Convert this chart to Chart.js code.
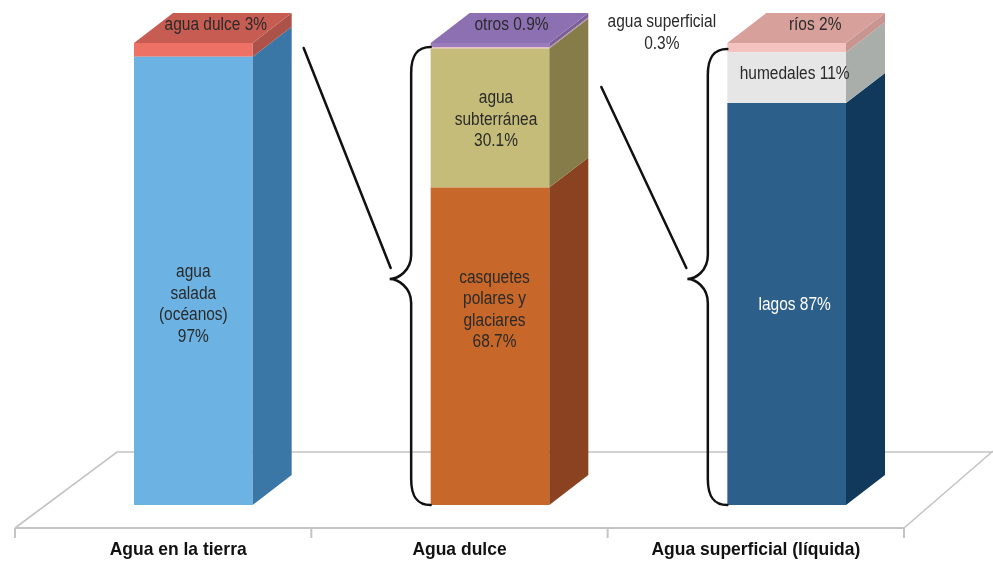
<!DOCTYPE html>
<html>
<head>
<meta charset="utf-8">
<title>Distribución del agua en la tierra</title>
<script src="https://cdn.jsdelivr.net/npm/chart.js"></script>
<style>
    html, body { margin: 0; padding: 0; background: #fff; }
    #wrap { width: 993px; height: 562px; }
</style>
</head>
<body>
<div id="wrap"><canvas id="chart" width="993" height="562"></canvas></div>
<script>
    const categories = ['Agua en la tierra', 'Agua dulce', 'Agua superficial (líquida)'];

    // segmentos apilados de abajo hacia arriba (null = sin segmento)
    const level1 = [97, 68.7, 87];
    const level2 = [3, 30.1, 11];
    const level3 = [null, 0.3, 2];
    const level4 = [null, 0.9, null];

    const labels1 = [['agua', 'salada', '(océanos)', '97%'], ['casquetes', 'polares y', 'glaciares', '68.7%'], ['lagos 87%']];
    const labels2 = [['agua dulce 3%'], ['agua', 'subterránea', '30.1%'], ['humedales 11%']];
    const labels3 = [null, ['agua superficial', '0.3%'], ['ríos 2%']];
    const labels4 = [null, ['otros 0.9%'], null];

    // colores: cara frontal / cara lateral
    const front1 = ['#6cb2e2', '#c7672a', '#2c5f8a'];
    const side1  = ['#3b77a6', '#8a4220', '#10395b'];
    const front2 = ['#ee7166', '#c4bc78', '#e6e6e6'];
    const side2  = ['#ad5249', '#857c49', '#a9aeaa'];
    const front3 = [null, '#e8b5c6', '#f4c3bf'];
    const side3  = [null, '#b48ea0', '#c99590'];
    const front4 = [null, '#9a7cba', null];
    const side4  = [null, '#7b5f98', null];
    const topColors = ['#c75c52', '#8d70b2', '#d7a09b'];

    const DX = 39, DY = -30;   // profundidad 3D
    const TEXT = '#2a2a2a';
    const FONT = '17.5px "Liberation Sans", Arial, sans-serif';
    const SQUEEZE = 0.885;     // texto algo condensado como en el original

    function mkSet(data, front, side, labels, mode, shift, colors) {
        return {
            data: data,
            backgroundColor: front,
            sideColor: side,
            segLabels: labels,
            labelMode: mode,      // 'front' | 'top' | 'out'
            labelShift: shift,
            labelColor: colors || [TEXT, TEXT, TEXT],
            borderWidth: 0,
            barPercentage: 1,
            categoryPercentage: 0.4
        };
    }

    function narrowText(ctx, t, x, y, sx) {
        ctx.save();
        ctx.translate(x, y);
        ctx.scale(sx, 1);
        ctx.fillText(t, 0, 0);
        ctx.restore();
    }

    function textLines(ctx, lines, cx, cy, color) {
        const lh = 21.5;
        ctx.fillStyle = color;
        ctx.font = FONT;
        ctx.textAlign = 'center';
        ctx.textBaseline = 'middle';
        const y0 = cy - (lines.length - 1) * lh / 2;
        lines.forEach((t, k) => narrowText(ctx, t, cx, y0 + k * lh, SQUEEZE));
    }

    function brace(ctx, xEnd, xMid, xTip, yTop, yBot, yTip) {
        ctx.beginPath();
        ctx.moveTo(xEnd, yTop);
        ctx.bezierCurveTo(xMid + 6, yTop, xMid, yTop + 8, xMid, yTop + 26);
        ctx.lineTo(xMid, yTip - 24);
        ctx.bezierCurveTo(xMid, yTip - 8, xTip + 8, yTip, xTip, yTip);
        ctx.bezierCurveTo(xTip + 8, yTip, xMid, yTip + 8, xMid, yTip + 24);
        ctx.lineTo(xMid, yBot - 26);
        ctx.bezierCurveTo(xMid, yBot - 8, xMid + 6, yBot, xEnd, yBot);
        ctx.stroke();
    }

    const bars3d = {
        id: 'bars3d',
        beforeDatasetsDraw(chart) {
            const ctx = chart.ctx, a = chart.chartArea;
            const fy = a.bottom + 23, by = a.bottom - 53;
            const fl = a.left - 30, fr = a.right - 31;
            ctx.save();
            ctx.strokeStyle = '#c4c4c4';
            ctx.lineWidth = 1.6;
            ctx.beginPath();
            ctx.moveTo(fl, fy);
            ctx.lineTo(fl + 102, by);
            ctx.lineTo(993, by);
            ctx.moveTo(fr, fy);
            ctx.lineTo(fr + 89, by - 1);
            ctx.stroke();
            ctx.lineWidth = 2;
            ctx.beginPath();
            ctx.moveTo(fl, fy);
            ctx.lineTo(fr, fy);
            for (let k = 0; k <= categories.length; k++) {
                const x = fl + (fr - fl) * k / categories.length;
                ctx.moveTo(x, fy);
                ctx.lineTo(x, fy + 10);
            }
            ctx.stroke();
            ctx.restore();
        },
        afterDatasetsDraw(chart) {
            const ctx = chart.ctx, a = chart.chartArea;
            const sets = chart.data.datasets;
            ctx.save();
            const topEl = [];
            // caras laterales
            sets.forEach((ds, d) => {
                const meta = chart.getDatasetMeta(d);
                meta.data.forEach((el, i) => {
                    if (ds.data[i] == null) return;
                    const r = el.x + el.width / 2;
                    ctx.fillStyle = ds.sideColor[i];
                    ctx.beginPath();
                    ctx.moveTo(r, el.y);
                    ctx.lineTo(r + DX, el.y + DY);
                    ctx.lineTo(r + DX, el.base + DY);
                    ctx.lineTo(r, el.base);
                    ctx.closePath();
                    ctx.fill();
                    topEl[i] = el;
                });
            });
            // caras superiores
            topEl.forEach((el, i) => {
                const l = el.x - el.width / 2, r = el.x + el.width / 2;
                ctx.fillStyle = topColors[i];
                ctx.beginPath();
                ctx.moveTo(l, el.y);
                ctx.lineTo(r, el.y);
                ctx.lineTo(r + DX, el.y + DY);
                ctx.lineTo(l + DX, el.y + DY);
                ctx.closePath();
                ctx.fill();
            });

            const m = chart.getDatasetMeta(0).data;
            const b1 = m[0], b2 = m[1], b3 = m[2];
            const r1 = b1.x + b1.width / 2, r2 = b2.x + b2.width / 2;
            const l2 = b2.x - b2.width / 2, l3 = b3.x - b3.width / 2;
            const yTip = (a.top + a.bottom) / 2 + 5;

            // llaves y líneas de conexión
            ctx.strokeStyle = '#111';
            ctx.lineWidth = 2.5;
            ctx.lineCap = 'round';
            brace(ctx, l2, l2 - 19.5, l2 - 41, a.top + 4, a.bottom, yTip);
            brace(ctx, l3, l3 - 19.5, l3 - 40, a.top + 6, a.bottom, yTip);
            ctx.beginPath();
            ctx.moveTo(r1 + DX + 12, a.top + 5);
            ctx.lineTo(l2 - 40, yTip - 11);
            ctx.moveTo(r2 + DX + 13, a.top + 44);
            ctx.lineTo(l3 - 41, yTip - 11);
            ctx.stroke();

            // etiquetas de segmentos
            sets.forEach((ds, d) => {
                const meta = chart.getDatasetMeta(d);
                meta.data.forEach((el, i) => {
                    const lines = ds.segLabels[i];
                    if (ds.data[i] == null || !lines) return;
                    const s = ds.labelShift[i];
                    let cx, cy;
                    if (ds.labelMode[i] === 'top') {
                        cx = el.x + DX / 2 + s[0];
                        cy = el.y + DY / 2 + s[1];
                    } else if (ds.labelMode[i] === 'out') {
                        cx = (r2 + DX + l3) / 2 + s[0];
                        cy = a.top + s[1];
                    } else {
                        cx = el.x + s[0];
                        cy = (el.y + el.base) / 2 + s[1];
                    }
                    textLines(ctx, lines, cx, cy, ds.labelColor[i]);
                });
            });

            // categorías bajo el piso
            const fl = a.left - 30, fr = a.right - 31;
            const nudge = [15, 0, 0];
            ctx.fillStyle = '#111';
            ctx.font = 'bold 19px "Liberation Sans", Arial, sans-serif';
            ctx.textAlign = 'center';
            ctx.textBaseline = 'middle';
            categories.forEach((c, k) => {
                const x = fl + (fr - fl) * (k + 0.5) / categories.length + nudge[k];
                narrowText(ctx, c, x, a.bottom + 45, 0.92);
            });
            ctx.restore();
        }
    };

    new Chart(document.getElementById('chart'), {
        type: 'bar',
        data: {
            labels: categories,
            datasets: [
                mkSet(level1, front1, side1, labels1, ['front', 'front', 'front'], [[0, 23.5], [4.5, -36], [8, 1]], [TEXT, TEXT, '#ffffff']),
                mkSet(level2, front2, side2, labels2, ['top', 'front', 'front'], [[3, -3], [6, 2], [8, -3.5]]),
                mkSet(level3, front3, side3, labels3, [null, 'out', 'top'], [null, [4, -10], [9, -3]]),
                mkSet(level4, front4, side4, labels4, [null, 'top', null], [null, [2, -3], null])
            ]
        },
        options: {
            responsive: false,
            animation: false,
            layout: { padding: { left: 45, right: 58, top: 43, bottom: 57 } },
            plugins: { legend: { display: false }, tooltip: { enabled: false } },
            scales: {
                x: { display: false, stacked: true },
                y: { display: false, stacked: true, min: 0, max: 100 }
            }
        },
        plugins: [bars3d]
    });
</script>
</body>
</html>
